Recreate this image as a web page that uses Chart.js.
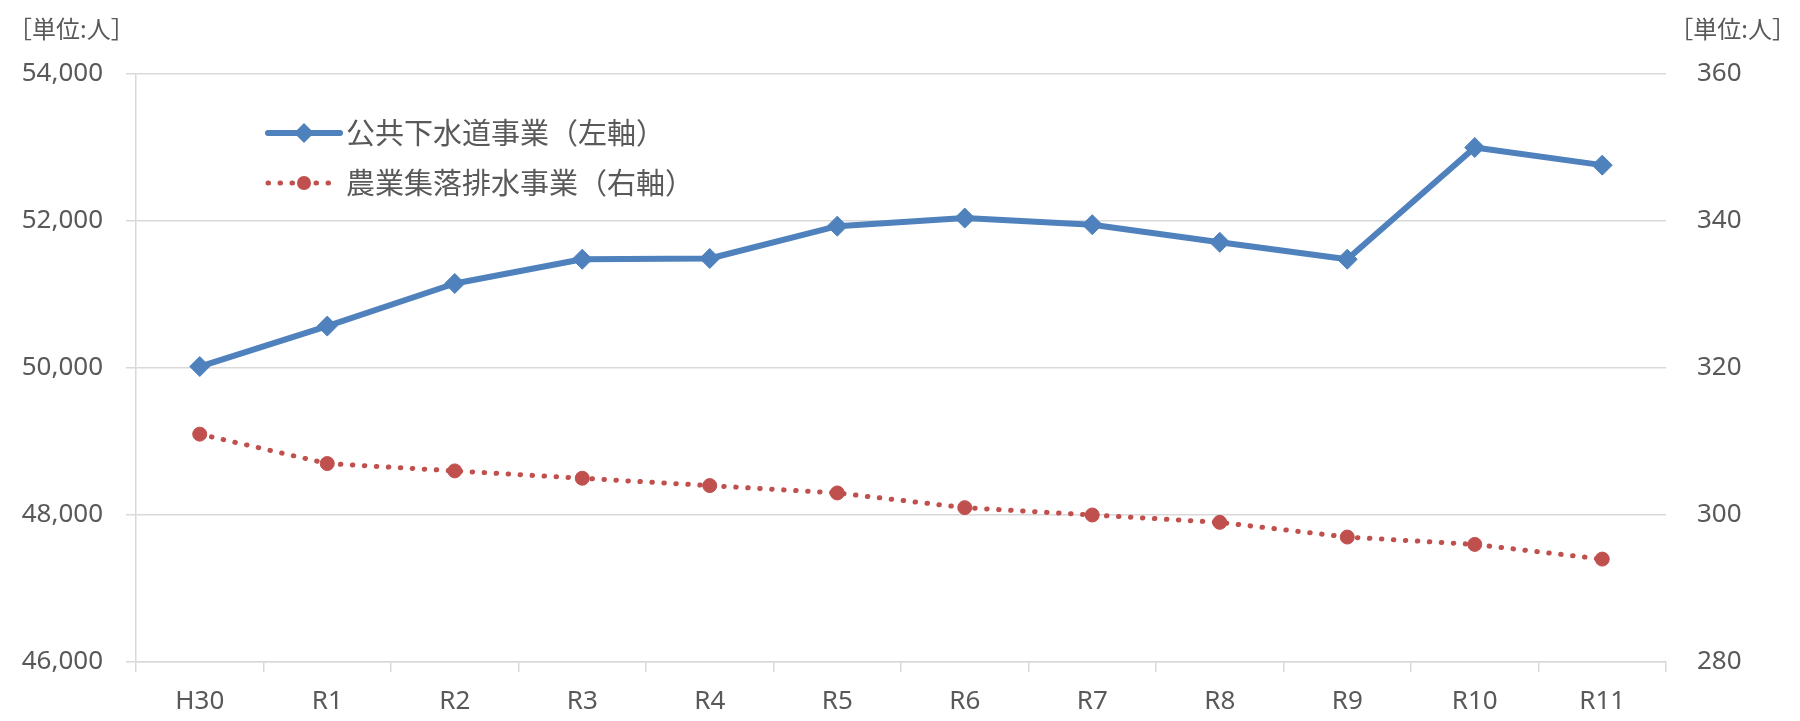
<!DOCTYPE html>
<html>
<head>
<meta charset="utf-8">
<script src="https://cdn.jsdelivr.net/npm/chart.js@4.4.1/dist/chart.umd.min.js"></script>
<style>
  body { margin: 0; background: #fff; }
  #wrap { width: 1800px; height: 721px; }
</style>
</head>
<body>
<div id="wrap"><canvas id="my-chart" width="1800" height="721"></canvas></div>
<script>
const years = ['H30', 'R1', 'R2', 'R3', 'R4', 'R5', 'R6', 'R7', 'R8', 'R9', 'R10', 'R11'];
const sewer = [50020, 50570, 51150, 51480, 51490, 51930, 52040, 51950, 51710, 51480, 53000, 52760];
const rural = [311, 307, 306, 305, 304, 303, 301, 300, 299, 297, 296, 294];
const leftTicks = [46000, 48000, 50000, 52000, 54000];
const rightTicks = [280, 300, 320, 340, 360];
const seriesNames = ['公共下水道事業（左軸）', '農業集落排水事業（右軸）'];
const unitLabel = '［単位:人］';

const blue = '#4F81BD';
const red = '#C0504D';
const gray = '#595959';
const gridGray = '#D9D9D9';
const numFont = { family: "'Noto Sans', sans-serif", size: 26 };

// legend inside the plot + unit labels
const extras = {
  id: 'extras',
  afterDraw(chart) {
    const ctx = chart.ctx;
    ctx.save();
    const rows = [
      { y: 133, ds: chart.data.datasets[0] },
      { y: 183, ds: chart.data.datasets[1] }
    ];
    rows.forEach((r, i) => {
      ctx.strokeStyle = r.ds.borderColor;
      ctx.lineWidth = r.ds.borderWidth;
      ctx.lineCap = 'round';
      ctx.setLineDash(r.ds.borderDash || []);
      ctx.beginPath();
      ctx.moveTo(268, r.y);
      ctx.lineTo(340, r.y);
      ctx.stroke();
      ctx.setLineDash([]);
      ctx.fillStyle = r.ds.pointBackgroundColor;
      ctx.beginPath();
      if (i === 0) {
        const s = r.ds.pointRadius;
        ctx.moveTo(304, r.y - s);
        ctx.lineTo(304 + s, r.y);
        ctx.lineTo(304, r.y + s);
        ctx.lineTo(304 - s, r.y);
        ctx.closePath();
      } else {
        ctx.arc(304, r.y, r.ds.pointRadius, 0, Math.PI * 2);
      }
      ctx.fill();
      ctx.fillStyle = gray;
      ctx.font = "29px 'Noto Sans CJK JP'";
      ctx.textBaseline = 'middle';
      ctx.textAlign = 'left';
      ctx.fillText(seriesNames[i], 346, r.y);
    });
    ctx.font = "24px 'Noto Sans CJK JP'";
    ctx.textBaseline = 'middle';
    ctx.textAlign = 'left';
    ctx.fillText(unitLabel, 8, 29);
    ctx.textAlign = 'right';
    ctx.fillText(unitLabel, 1796, 29);
    ctx.restore();
  }
};

const ctx = document.getElementById('my-chart').getContext('2d');
const chart = new Chart(ctx, {
  type: 'line',
  data: {
    labels: years,
    datasets: [
      {
        label: seriesNames[0],
        data: sewer,
        yAxisID: 'y',
        borderColor: blue,
        backgroundColor: blue,
        borderWidth: 6,
        borderJoinStyle: 'round',
        pointStyle: 'rectRot',
        pointRadius: 10,
        pointBackgroundColor: blue,
        pointBorderColor: blue,
        pointBorderWidth: 1,
        tension: 0
      },
      {
        label: seriesNames[1],
        data: rural,
        yAxisID: 'y1',
        borderColor: red,
        backgroundColor: red,
        borderWidth: 5,
        borderDash: [0.5, 11.5],
        borderCapStyle: 'round',
        pointStyle: 'circle',
        pointRadius: 7,
        pointBackgroundColor: red,
        pointBorderColor: red,
        pointBorderWidth: 1,
        tension: 0
      }
    ]
  },
  options: {
    responsive: false,
    animation: false,
    layout: { padding: { top: 74, left: 0, right: 0, bottom: 0 } },
    plugins: {
      legend: { display: false },
      tooltip: { enabled: false }
    },
    scales: {
      x: {
        offset: true,
        grid: { offset: true, drawOnChartArea: false, drawTicks: true, tickLength: 10, color: gridGray, lineWidth: 1.5 },
        border: { display: true, color: gridGray, width: 1.5 },
        ticks: { color: gray, font: numFont, padding: 14, maxRotation: 0 },
        afterFit: (scale) => { scale.height = 59; }
      },
      y: {
        position: 'left',
        min: 46000,
        max: 54000,
        afterBuildTicks: (scale) => { scale.ticks = leftTicks.map(v => ({ value: v })); },
        grid: { color: gridGray, lineWidth: 1.5, tickLength: 10 },
        border: { display: true, color: gridGray, width: 1.5 },
        ticks: {
          color: gray, font: numFont, padding: 23,
          callback: (v) => v.toLocaleString('en-US')
        },
        afterFit: (scale) => { scale.width = 136; }
      },
      y1: {
        position: 'right',
        min: 280,
        max: 360,
        afterBuildTicks: (scale) => { scale.ticks = rightTicks.map(v => ({ value: v })); },
        grid: { display: false, drawTicks: false },
        border: { display: false },
        ticks: { color: gray, font: numFont, padding: 31 },
        afterFit: (scale) => { scale.width = 134; }
      }
    }
  },
  plugins: [extras]
});
</script>
</body>
</html>
